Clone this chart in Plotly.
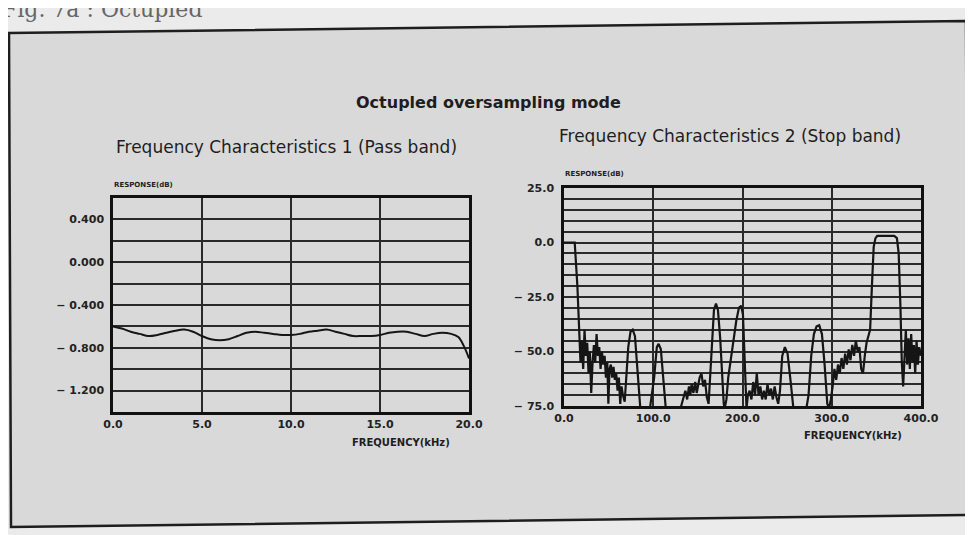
import plotly.graph_objects as go

# ---- data ----
pass_freq = [0, 0.5, 1, 1.5, 2, 2.5, 3, 3.5, 4, 4.5, 5, 5.5, 6, 6.5, 7, 7.5, 8, 8.5, 9, 9.5,
             10, 10.5, 11, 11.5, 12, 12.5, 13, 13.5, 14, 14.5, 15, 15.5, 16, 16.5, 17, 17.5,
             18, 18.5, 19, 19.4, 19.7, 20]
pass_db = [-0.60, -0.62, -0.65, -0.67, -0.69, -0.68, -0.66, -0.64, -0.63, -0.65, -0.69, -0.72,
           -0.73, -0.72, -0.69, -0.66, -0.65, -0.66, -0.67, -0.68, -0.68, -0.67, -0.65, -0.64,
           -0.63, -0.65, -0.67, -0.69, -0.69, -0.69, -0.68, -0.66, -0.65, -0.65, -0.67, -0.69,
           -0.67, -0.66, -0.67, -0.70, -0.78, -0.90]

stop_freq = [0, 12, 15, 17, 18.5, 20, 21.5, 23, 24.5, 26, 27.5, 29, 30.5, 32, 33.5, 35, 36.5,
             38, 39.5, 41, 42.5, 44, 45.5, 47, 48.5, 49.7, 51, 52.5, 54, 55.5, 57, 58.5, 60,
             61.5, 63, 64.5, 66, 68, 70, 72, 74.5, 77, 79.5, 82, 84, 85.5, 95, 101, 104, 106,
             108.5, 111, 114, 120, 128, 132, 134, 136, 138, 140, 141.5, 143, 145, 147, 148.7,
             150, 152, 154, 156, 158, 160, 162, 164, 166, 168, 170.3, 172.5, 175, 177, 179,
             180, 182, 184, 187, 190, 193, 196, 198.5, 200.5, 202, 203.5, 204.5, 206, 208,
             210, 212, 214, 216, 218, 220, 222, 224, 226, 228, 230, 232, 234, 236, 238, 240,
             242, 244.5, 247.5, 250.5, 254, 257, 262, 270, 274, 277, 280, 283, 286, 289, 292,
             295, 297, 299, 301, 303, 305, 307, 309, 311, 313, 315, 317, 319, 321, 323, 325,
             327, 329, 331, 333, 335, 337, 339, 341, 343, 345, 347, 349, 351, 360, 370, 373,
             375, 377, 378.5, 380, 381.5, 383, 384.5, 386, 387.5, 389, 390.5, 392, 393.5, 395,
             396.5, 398, 400]
stop_db = [0, 0, -20, -40, -55, -45, -58, -40, -52, -46, -60, -50, -69, -55, -47, -55, -42,
           -52, -48, -58, -50, -56, -52, -62, -55, -74, -58, -56, -62, -57, -63, -60, -68,
           -62, -74, -66, -70, -73, -62, -48, -41, -40, -43, -55, -68, -76, -80, -62, -48,
           -46.5, -49, -60, -76, -80, -80, -74, -71, -68, -72, -66, -70, -65, -69, -64, -69,
           -66, -62, -60, -66, -63, -71, -74, -60, -42, -31, -28, -31, -44, -62, -74,
           -76, -72, -62, -53, -45, -36, -30, -29, -33, -50, -70, -76, -70, -68,
           -72, -64, -70, -60, -70, -66, -72, -68, -72, -65, -70, -67, -72, -66, -71, -74,
           -68, -52, -48, -51, -64, -76, -80, -80, -70, -52, -42, -38.5, -38, -42, -56,
           -74, -76, -72, -66, -58, -63, -56, -60, -53, -58, -51, -56, -49, -54, -47, -52,
           -45, -50, -48, -58, -60, -52, -46, -43, -40, -20, -2, 2, 3, 3, 3, 2,
           -5, -30, -55, -66, -52, -40, -56, -44, -58, -42, -55, -47, -60, -45,
           -56, -48, -52]

pass_grid = [-1.4, -1.2, -1.0, -0.8, -0.6, -0.4, -0.2, 0.0, 0.2, 0.4, 0.6]
pass_grid_text = ["", "− 1.200", "", "− 0.800", "", "− 0.400", "", "0.000", "", "0.400", ""]
pass_xticks = [0, 5, 10, 15, 20]
pass_xtext = ["0.0", "5.0", "10.0", "15.0", "20.0"]

stop_grid = list(range(-75, 30, 5))
stop_grid_text = ["− 75.0" if v == -75 else "− 50.0" if v == -50 else "− 25.0" if v == -25
                  else "0.0" if v == 0 else "25.0" if v == 25 else "" for v in stop_grid]
stop_xticks = [0, 100, 200, 300, 400]
stop_xtext = ["0.0", "100.0", "200.0", "300.0", "400.0"]

W, H = 973, 535
OFF = 8  # the page puts the plot 8px in from the top-left corner


def px(x):
    return (x - OFF) / W


def py(y):
    return 1 - (y - OFF) / H


fig = go.Figure()
fig.add_trace(go.Scatter(x=pass_freq, y=pass_db, mode='lines', xaxis='x', yaxis='y',
                         line=dict(color='#151515', width=2, shape='spline'), showlegend=False))
fig.add_trace(go.Scatter(x=stop_freq, y=stop_db, mode='lines', xaxis='x2', yaxis='y2',
                         line=dict(color='#151515', width=2.2), showlegend=False))

tickfont = dict(family='DejaVu Sans', size=11, color='#222', weight='bold')
axis_common = dict(showgrid=True, gridcolor='#2a2a2a', gridwidth=1.6, showline=True,
                   mirror=True, linecolor='#111', linewidth=2.5, zeroline=False, ticks='',
                   tickmode='array', tickfont=tickfont, fixedrange=True, automargin=False)

fig.update_layout(
    width=W, height=H,
    autosize=False,
    margin=dict(l=0, r=0, t=0, b=0, pad=0, autoexpand=False),
    paper_bgcolor='#ebebeb',
    plot_bgcolor='rgba(0,0,0,0)',
    xaxis=dict(domain=[px(113), px(469)], range=[0, 20], tickvals=pass_xticks,
               ticktext=pass_xtext, anchor='y', **axis_common),
    yaxis=dict(domain=[py(412), py(198)], range=[-1.4, 0.6], tickvals=pass_grid,
               ticktext=pass_grid_text, anchor='x', ticklabelstandoff=4, **axis_common),
    xaxis2=dict(domain=[px(564), px(921)], range=[0, 400], tickvals=stop_xticks,
                ticktext=stop_xtext, anchor='y2', **axis_common),
    yaxis2=dict(domain=[py(406), py(188)], range=[-75, 25], tickvals=stop_grid,
                ticktext=stop_grid_text, anchor='x2', ticklabelstandoff=5, **axis_common),
)

# scanned page box (slightly skewed like the scan)
fig.add_shape(type='path', xref='paper', yref='paper', layer='below',
              path='M %f,%f L %f,%f L %f,%f L %f,%f Z' % (px(9), py(33), px(966), py(21),
                                                          px(968), py(515), px(11), py(527)),
              fillcolor='#d9d9d9', line=dict(color='#1e1e1e', width=2.5))


def note(text, x, y, size, bold=False, family='DejaVu Sans', color='#1e1e1e', xanchor='center'):
    fig.add_annotation(text='<b>%s</b>' % text if bold else text, x=px(x), y=py(y),
                       xref='paper', yref='paper', showarrow=False, xanchor=xanchor,
                       yanchor='middle', font=dict(family=family, size=size, color=color))


note('Fig. 7a : Octupled', 0, 9, 22, family='DejaVu Serif', color='#666', xanchor='left')
note('Octupled oversampling mode', 488, 102, 16, bold=True)
note('Frequency Characteristics 1 (Pass band)', 286, 147, 17)
note('Frequency Characteristics 2 (Stop band)', 730, 136, 17)
note('RESPONSE(dB)', 112, 185, 7, bold=True, xanchor='left')
note('RESPONSE(dB)', 563, 174, 7, bold=True, xanchor='left')
note('FREQUENCY(kHz)', 350, 442, 10, bold=True, xanchor='left')
note('FREQUENCY(kHz)', 802, 435, 10, bold=True, xanchor='left')

fig.write_html("out.html")
